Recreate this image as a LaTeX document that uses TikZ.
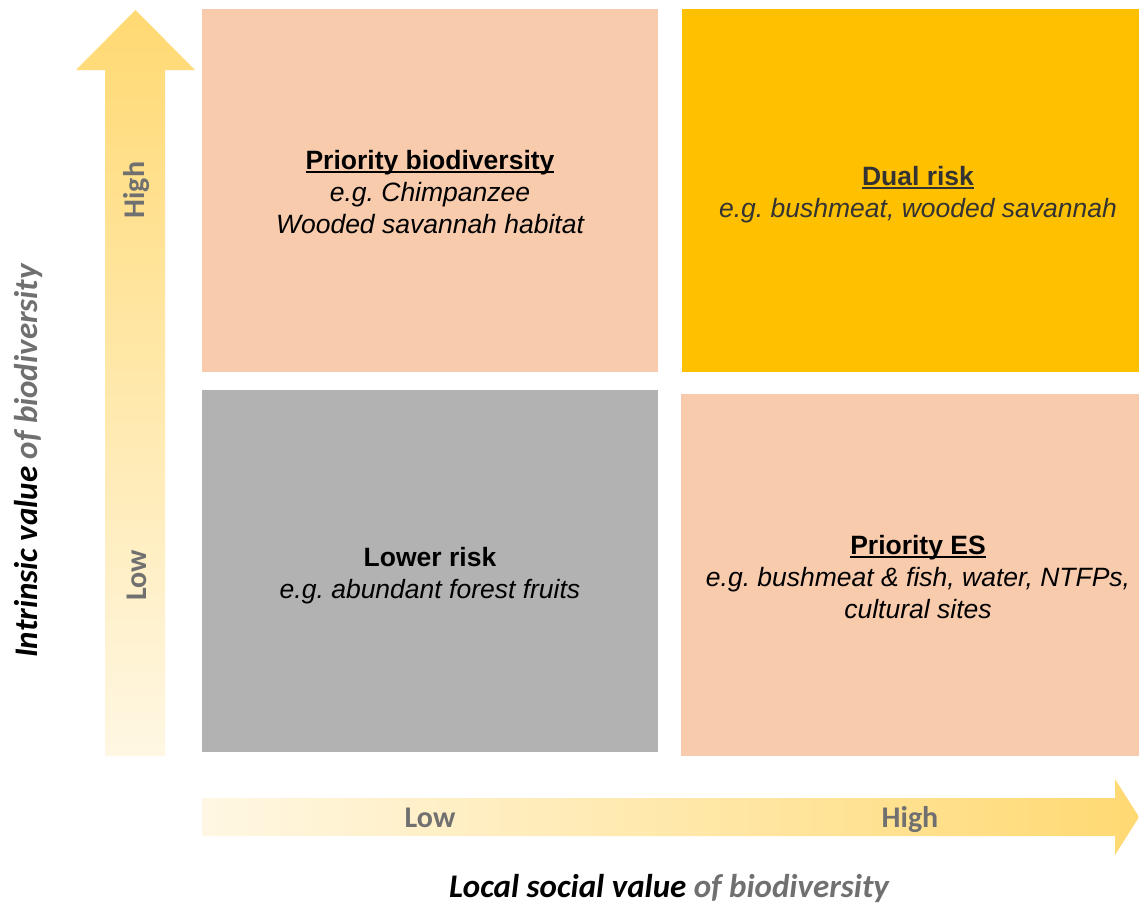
\documentclass[tikz,border=0pt]{standalone}
\usepackage{fontspec}
\setmainfont{Liberation Sans}
\newfontfamily\axisfont{Carlito}
\definecolor{peach}{HTML}{F8CBAD}
\definecolor{gold}{HTML}{FFC000}
\definecolor{boxgray}{HTML}{B2B2B2}
\definecolor{arrowdark}{HTML}{FFD972}
\definecolor{arrowlight}{HTML}{FFF7E3}
\definecolor{labelgray}{HTML}{707070}
\definecolor{darktext}{HTML}{333333}
\newcommand\myul[1]{\setbox0\hbox{#1}\rlap{\rule[-3.5pt]{\wd0}{2pt}}\box0}
\frenchspacing
\tikzset{
  quad/.style={draw=none},
  boxtext/.style={align=center, font=\fontsize{26.5}{32}\selectfont, text=black},
  axlab/.style={font=\axisfont\bfseries\fontsize{30}{32}\selectfont, text=labelgray},
  axtitle/.style={font=\axisfont\bfseries\itshape\fontsize{33}{36}\selectfont}
}
\begin{document}
\begin{tikzpicture}[x=1pt,y=-1pt]
\useasboundingbox[fill=white] (0,0) rectangle (1139,906);
% quadrants
\fill[peach] (202,9) rectangle (658,372);
\fill[gold] (682,9) rectangle (1139,372);
\fill[boxgray] (202,390) rectangle (658,752);
\fill[peach] (681,394) rectangle (1139,756);
% vertical arrow
\shade[top color=arrowdark, bottom color=arrowlight]
  (135.5,10) -- (195,70) -- (165,70) -- (165,756) -- (105,756) -- (105,70) -- (76,70) -- cycle;
% horizontal arrow
\shade[left color=arrowlight, right color=arrowdark]
  (202,798) -- (1115,798) -- (1115,779) -- (1139,817) -- (1115,855) -- (1115,836) -- (202,836) -- cycle;
% quadrant texts
\node[boxtext] (pb) at (430,192) {\myul{\bfseries Priority biodiversity}\\ \itshape e.g. Chimpanzee\\ \itshape Wooded savannah habitat};
\node[boxtext, text=darktext] (dr) at (918,195) {\myul{\bfseries Dual risk}\\ \itshape e.g. bushmeat, wooded savannah};
\node[boxtext] (lr) at (430,576) {\bfseries Lower risk\\ \itshape e.g. abundant forest fruits};
\node[boxtext] (pes) at (918,577) {\myul{\bfseries Priority ES}\\ \itshape e.g. bushmeat \& fish, water, NTFPs,\\ \itshape cultural sites};
% arrow labels
\node[axlab, rotate=90] (vh) at (137,190) {High};
\node[axlab, rotate=90] (vl) at (137,575) {Low};
\node[axlab, anchor=base] (hl) at (430,827) {Low};
\node[axlab, anchor=base] (hh) at (910,827) {High};
% axis titles
\node[axtitle] (xt) at (669,888) {Local social value \textcolor{labelgray}{of biodiversity}};
\node[axtitle, rotate=90] (yt) at (29,461) {Intrinsic value \textcolor{labelgray}{of biodiversity}};
\end{tikzpicture}
\end{document}
